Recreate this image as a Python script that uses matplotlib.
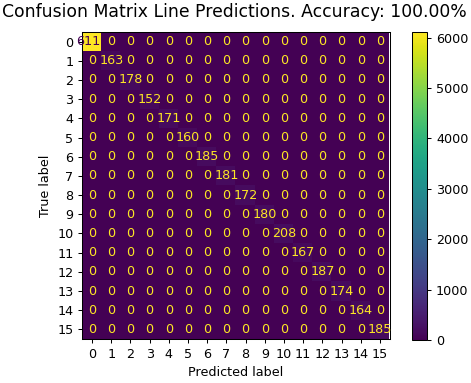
import numpy as np
import matplotlib
matplotlib.use("Agg")
import matplotlib.pyplot as plt

# class labels and diagonal counts (all off-diagonal cells are 0)
labels = [str(i) for i in range(16)]
diag_counts = [6113, 163, 178, 152, 171, 160, 185, 181, 172, 180,
               208, 167, 187, 174, 164, 185]
accuracy = 100.00

cm = np.diag(diag_counts)
n = len(labels)

# the reference looks like a default figure scaled up ~1.28x
s = 1.28
plt.rcParams.update({
    "font.size": 10 * s,
    "xtick.major.size": 3.5 * s, "ytick.major.size": 3.5 * s,
    "xtick.major.pad": 3.5 * s, "ytick.major.pad": 3.5 * s,
    "xtick.major.width": 0.8 * s, "ytick.major.width": 0.8 * s,
    "axes.labelpad": 4 * s,
    "axes.linewidth": 0.8 * s,
})

W, H = 471, 383
fig = plt.figure(figsize=(W / 72, H / 72), dpi=72)
ax = fig.add_axes([82 / W, 1 - 339 / H, 308 / W, 307 / H])
cax = fig.add_axes([412 / W, 1 - 340 / H, 15 / W, 308 / H])

cmap = plt.get_cmap("viridis")
im = ax.imshow(cm, interpolation="nearest", cmap=cmap)
fig.colorbar(im, cax=cax)

thresh = (cm.max() + cm.min()) / 2.0
for i in range(n):
    for j in range(n):
        color = cmap(0) if cm[i, j] >= thresh else cmap(1.0)
        ax.text(j, i, format(cm[i, j], "d"), ha="center", va="center",
                color=color)

ax.set_xticks(np.arange(n))
ax.set_yticks(np.arange(n))
ax.set_xticklabels(labels)
ax.set_yticklabels(labels)
ax.set_xlabel("Predicted label")
ax.set_ylabel("True label")
fig.text(0.5 * (4 + 465) / W, 1 - 12 / H,
         f"Confusion Matrix Line Predictions. Accuracy: {accuracy:.2f}%",
         ha="center", va="center", fontsize=12 * s * 1.12)

fig.savefig("out.png", dpi=72)
